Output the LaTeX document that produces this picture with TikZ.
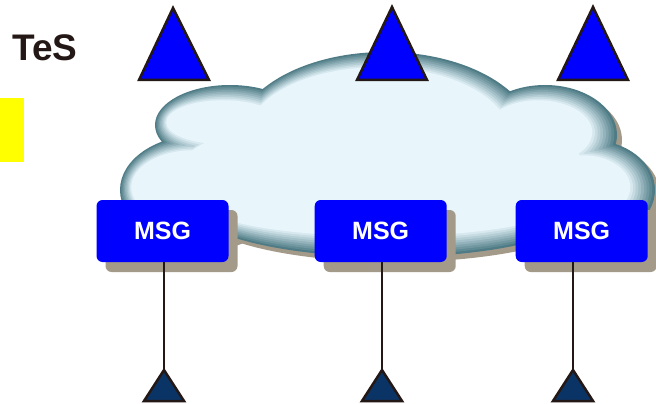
\documentclass[tikz,border=0pt]{standalone}
\usepackage{fontspec}
\setmainfont{Liberation Sans}
\usetikzlibrary{shadows}

\definecolor{msgblue}{HTML}{0000FF}
\definecolor{inkdark}{HTML}{231815}
\definecolor{navytri}{HTML}{0B3466}
\definecolor{beige}{HTML}{A39A8A}
\definecolor{cloudedge}{HTML}{4E7B85}
\definecolor{cloudfill}{HTML}{E8F6FC}
\definecolor{marker}{HTML}{FFFF00}

% One filled copy of the cloud outline: #1 shrink, #2/#3 shift, #4 fill colour
\newcommand\cloudlayer[4]{%
  \fill[#4]
    ({200+#2},{190+#3}) ellipse [x radius={80pt-#1pt},  y radius={55pt-#1pt}]
    ({230+#2},{125+#3}) ellipse [x radius={75pt-#1pt},  y radius={40pt-#1pt}]
    ({385+#2},{140+#3}) ellipse [x radius={150pt-#1pt}, y radius={88pt-#1pt}]
    ({545+#2},{135+#3}) ellipse [x radius={72pt-#1pt},  y radius={50pt-#1pt}]
    ({590+#2},{190+#3}) ellipse [x radius={65pt-#1pt},  y radius={50pt-#1pt}]
    ({390+#2},{205+#3}) ellipse [x radius={200pt-#1pt}, y radius={52pt-#1pt}]
    ({390+#2},{170+#3}) ellipse [x radius={220pt-#1pt}, y radius={70pt-#1pt}];
}

\tikzset{
  msgbox/.style={rectangle, rounded corners=6pt, fill=msgblue, text=white,
    minimum width=132pt, minimum height=62pt, inner sep=0pt,
    font=\fontsize{25}{30}\selectfont\bfseries,
    drop shadow={fill=beige, opacity=1, shadow xshift=9pt, shadow yshift=-10pt}},
  toptri/.style={fill=msgblue, draw=inkdark, line width=2.5pt},
  bottri/.style={fill=navytri, draw=inkdark, line width=2.5pt},
  link/.style={draw=inkdark, line width=2pt},
}

\begin{document}
\begin{tikzpicture}[x=1pt, y=-1pt]
\useasboundingbox (0,0) rectangle (656,404);

% title and marker
\node[anchor=base west, inner sep=0pt, text=inkdark,
      font=\fontsize{37}{42}\selectfont\bfseries] (title) at (12,61) {TeS};
\fill[marker] (0,98) rectangle (24,162);

% cloud: beige drop shadow, then a graded teal rim toward the pale interior
\cloudlayer{0}{5}{5}{beige}
\cloudlayer{0}{0}{0}{cloudedge}
\foreach \k in {1,...,9}{
  \pgfmathsetmacro\shr{2*\k}
  \pgfmathsetmacro\dx{-0.75*\k}
  \pgfmathsetmacro\dy{-0.3*\k}
  \pgfmathtruncatemacro\mix{11*\k+1}
  \cloudlayer{\shr}{\dx}{\dy}{cloudfill!\mix!cloudedge}
}

% upper terminals
\coordinate (t1) at (173,8);
\coordinate (t2) at (392,7);
\coordinate (t3) at (593,7);
\draw[toptri] (t1) -- (209,80) -- (139,80) -- cycle;
\draw[toptri] (t2) -- (427,80) -- (357,80) -- cycle;
\draw[toptri] (t3) -- (628,80) -- (558,80) -- cycle;

% gateways
\node[msgbox] (m1) at (162.5,231) {MSG};
\node[msgbox] (m2) at (380.7,231) {MSG};
\node[msgbox] (m3) at (581.7,231) {MSG};

% lower terminals
\coordinate (b1) at (164,370);
\coordinate (b2) at (382,370);
\coordinate (b3) at (573,370);
\foreach \b in {b1,b2,b3}{
  \draw[bottri] (\b) -- ++(20,31) -- ++(-40,0) -- cycle;
}

% access lines
\draw[link] (m1.south -| b1) -- (b1);
\draw[link] (m2.south -| b2) -- (b2);
\draw[link] (m3.south -| b3) -- (b3);
\end{tikzpicture}
\end{document}
